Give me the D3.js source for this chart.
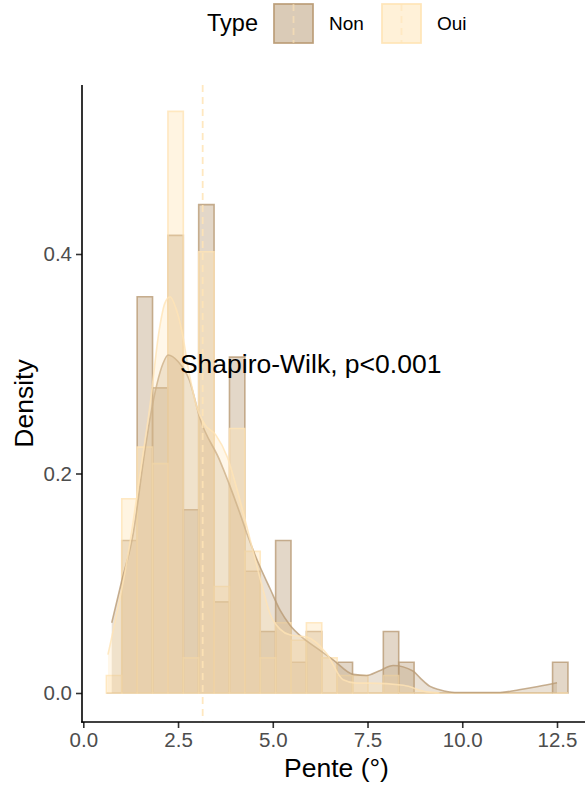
<!DOCTYPE html>
<html>
<head>
<meta charset="utf-8">
<script src="https://cdn.jsdelivr.net/npm/d3@7"></script>
<style>
  body { margin: 0; background: #fff; }
  text { font-family: "Liberation Sans", Arial, sans-serif; }
</style>
</head>
<body>
<script>
// bin edges (Pente, degrees) shared by both groups
var binEdges = [0.609, 1.015, 1.421, 1.827, 2.233, 2.639, 3.045, 3.451, 3.857, 4.263,
                4.669, 5.075, 5.481, 5.887, 6.293, 6.699, 7.105, 7.511, 7.917, 8.323,
                8.729, 9.135, 9.541, 9.947, 10.353, 10.759, 11.165, 11.571, 11.977, 12.383, 12.789];

// histogram densities per bin
var nonHist = [0, 0.139, 0.361, 0.278, 0.417, 0.167, 0.445, 0.083, 0.306, 0.111,
               0.056, 0.139, 0.028, 0.056, 0, 0.028, 0, 0, 0.056, 0.028,
               0, 0, 0, 0, 0, 0, 0, 0, 0, 0.028];
var ouiHist = [0.016, 0.177, 0.224, 0.209, 0.530, 0.032, 0.402, 0.097, 0.241, 0.129,
               0.032, 0.064, 0.048, 0.064, 0.032, 0.016, 0.016, 0, 0.016, 0,
               0, 0, 0, 0, 0, 0, 0, 0, 0, 0];

// kernel density curves
var nonDensX = [0.75, 1.0, 1.32, 1.6, 1.76, 1.94, 2.1, 2.24, 2.5, 2.8, 3.08, 3.6, 4.13, 4.31, 4.6, 4.93,
                5.2, 5.45, 5.8, 6.2, 6.6, 7.12, 7.48, 7.8, 8.18, 8.7, 8.88, 9.15, 9.4, 9.8, 11.0, 11.5, 12.0, 12.5];
var nonDensY = [0.064, 0.10, 0.146, 0.215, 0.25, 0.281, 0.30, 0.308, 0.302, 0.285, 0.25, 0.212, 0.164, 0.146, 0.12, 0.095,
                0.075, 0.062, 0.05, 0.04, 0.03, 0.017, 0.016, 0.02, 0.025, 0.02, 0.014, 0.006, 0.003, 0.0005, 0.0005, 0.003, 0.006, 0.0094];
var ouiDensX = [0.65, 0.9, 1.2, 1.5, 1.76, 2.0, 2.15, 2.29, 2.45, 2.6, 2.8, 3.0, 3.2, 3.5, 3.8, 4.1, 4.4, 4.7,
                4.93, 5.2, 5.45, 5.9, 6.42, 6.86, 7.2, 7.56, 8.45, 9.06, 9.4];
var ouiDensY = [0.035, 0.075, 0.13, 0.2, 0.262, 0.33, 0.355, 0.361, 0.35, 0.33, 0.29, 0.26, 0.245, 0.235, 0.215, 0.18, 0.14, 0.10,
                0.072, 0.058, 0.053, 0.051, 0.036, 0.012, 0.009, 0.009, 0.007, 0.001, 0];

var meanPente = 3.15;
var xTicks = [0, 2.5, 5, 7.5, 10, 12.5];
var yTicks = [0, 0.2, 0.4];
var types = ["Non", "Oui"];
var label = "Shapiro-Wilk, p<0.001";

var colors = { "Non": "#b99b75", "Oui": "#ffe4b5" };

var width = 585, height = 787;
var panel = { left: 82, top: 85, bottom: 722, right: 585 };

var svg = d3.select("body").append("svg")
  .attr("width", width)
  .attr("height", height);

var x = d3.scaleLinear().domain([0, 12.5]).range([83.3, 557]);
var y = d3.scaleLinear().domain([0, 0.4]).range([693, 254]);

var plot = svg.append("g");

//Histogram bars (paths so zero bins still show their outline)
function drawHist(vals, type) {
  plot.selectAll("path.h" + type)
    .data(vals)
    .enter()
    .append("path")
    .attr("d", function(d, i) {
      var x0 = x(binEdges[i]), x1 = x(binEdges[i + 1]);
      return "M" + x0 + "," + y(0) + "V" + y(d) + "H" + x1 + "V" + y(0) + "Z";
    })
    .attr("fill", colors[type])
    .attr("fill-opacity", 0.4)
    .attr("stroke", colors[type])
    .attr("stroke-opacity", 0.8)
    .attr("stroke-width", 1.6);
}
drawHist(nonHist, "Non");
drawHist(ouiHist, "Oui");

//Density curves
function drawDens(xs, ys, type) {
  var pts = xs.map(function(v, i) { return [v, ys[i]]; });
  var area = d3.area()
    .x(function(d) { return x(d[0]); })
    .y0(y(0))
    .y1(function(d) { return y(d[1]); })
    .curve(d3.curveMonotoneX);
  var line = d3.line()
    .x(function(d) { return x(d[0]); })
    .y(function(d) { return y(d[1]); })
    .curve(d3.curveMonotoneX);
  plot.append("path")
    .attr("d", area(pts))
    .attr("fill", colors[type])
    .attr("fill-opacity", 0.3);
  plot.append("path")
    .attr("d", line(pts))
    .attr("fill", "none")
    .attr("stroke", colors[type])
    .attr("stroke-opacity", 0.8)
    .attr("stroke-width", 1.6);
}
drawDens(nonDensX, nonDensY, "Non");
drawDens(ouiDensX, ouiDensY, "Oui");

// mean line
plot.append("line")
  .attr("x1", x(meanPente)).attr("x2", x(meanPente))
  .attr("y1", panel.top).attr("y2", panel.bottom)
  .attr("stroke", colors["Oui"])
  .attr("stroke-opacity", 0.85)
  .attr("stroke-width", 1.8)
  .attr("stroke-dasharray", "7,5");

plot.append("text")
  .attr("x", x(6))
  .attr("y", y(0.3))
  .attr("text-anchor", "middle")
  .attr("dominant-baseline", "central")
  .attr("font-size", 26.5)
  .attr("fill", "#000")
  .text(label);

//Axes
var yAxis = svg.append("g")
  .attr("transform", "translate(" + panel.left + ",0)")
  .call(d3.axisLeft(y).tickValues(yTicks).tickFormat(d3.format(".1f")).tickSize(6).tickPadding(4));
var xAxis = svg.append("g")
  .attr("transform", "translate(0," + panel.bottom + ")")
  .call(d3.axisBottom(x).tickValues(xTicks).tickFormat(d3.format(".1f")).tickSize(6).tickPadding(4));

[xAxis, yAxis].forEach(function(a) {
  a.select(".domain").remove();
  a.selectAll(".tick line").attr("stroke", "#333").attr("stroke-width", 1.6);
  a.selectAll(".tick text").attr("fill", "#4d4d4d").attr("font-size", 20.5)
    .style("font-family", "'Liberation Sans', Arial, sans-serif");
});

svg.append("line")
  .attr("x1", panel.left).attr("x2", panel.left)
  .attr("y1", panel.top).attr("y2", panel.bottom + 0.8)
  .attr("stroke", "#000").attr("stroke-width", 1.6);
svg.append("line")
  .attr("x1", panel.left - 0.8).attr("x2", panel.right)
  .attr("y1", panel.bottom).attr("y2", panel.bottom)
  .attr("stroke", "#000").attr("stroke-width", 1.6);

svg.append("text")
  .attr("x", (panel.left + 591) / 2)
  .attr("y", 777)
  .attr("text-anchor", "middle")
  .attr("font-size", 26.5)
  .text("Pente (°)");

svg.append("text")
  .attr("transform", "translate(33," + ((panel.top + panel.bottom) / 2) + ") rotate(-90)")
  .attr("text-anchor", "middle")
  .attr("font-size", 26.5)
  .text("Density");

//Legend
var legend = svg.append("g");
legend.append("text")
  .attr("x", 207).attr("y", 31)
  .attr("font-size", 23.5)
  .text("Type");

var keyX = { "Non": 273, "Oui": 381 };
types.forEach(function(t) {
  var k = legend.append("g").attr("transform", "translate(" + keyX[t] + ",3)");
  [0.4, 0.2].forEach(function(a) {
    k.append("rect")
      .attr("x", 1).attr("y", 1).attr("width", 39).attr("height", 39)
      .attr("fill", colors[t]).attr("fill-opacity", a)
      .attr("stroke", colors[t]).attr("stroke-opacity", 0.7).attr("stroke-width", 1.6);
  });
  k.append("line")
    .attr("x1", 20.5).attr("x2", 20.5).attr("y1", 1).attr("y2", 40)
    .attr("stroke", colors["Oui"]).attr("stroke-opacity", 0.6)
    .attr("stroke-width", 1.8).attr("stroke-dasharray", "7,5");
  legend.append("text")
    .attr("x", keyX[t] + 56).attr("y", 30)
    .attr("font-size", 19)
    .text(t);
});
</script>
</body>
</html>
